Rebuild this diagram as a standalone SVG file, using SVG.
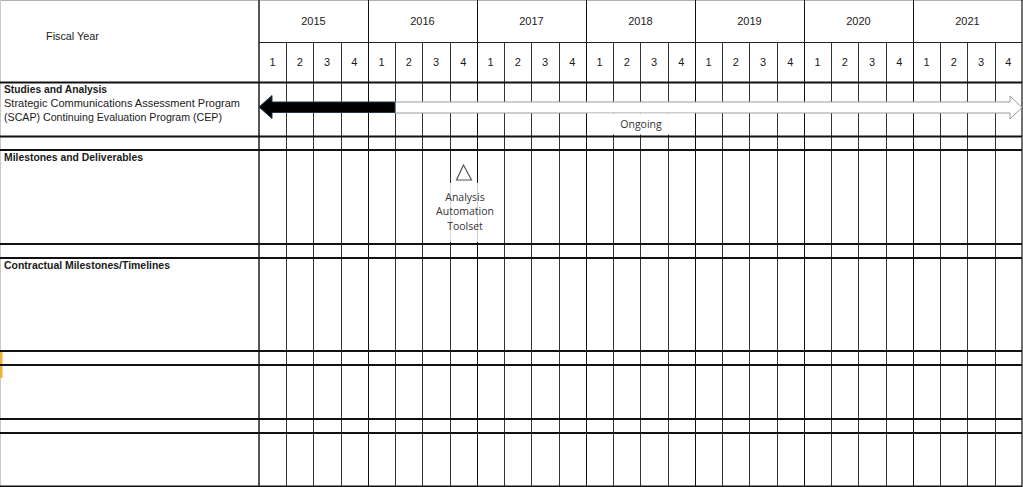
<svg xmlns="http://www.w3.org/2000/svg" width="1023" height="487" viewBox="0 0 1023 487">
<style>
text{font-family:"Liberation Sans",Arial,sans-serif;fill:#1a1a1a}
.hd{font-size:11px;text-anchor:middle}
.lb{font-size:10.6px}
.b{font-weight:bold}
.q{stroke:#333;stroke-width:1}
.y{stroke:#111;stroke-width:1}
.h{stroke:#111;stroke-width:2}
.cal{font-family:"Open Sans","Liberation Sans",sans-serif;font-size:10px;fill:#333;text-anchor:middle}
</style>
<rect x="0" y="0" width="1023" height="487" fill="#fff"/>
<g id="frame">
<line x1="0" y1="0.5" x2="1023" y2="0.5" stroke="#b0b0b0"/>
<line x1="0.5" y1="0" x2="0.5" y2="487" stroke="#c8c8c8"/>
<rect x="0" y="350" width="2.5" height="28" fill="#f2b134"/>
<line x1="1022" y1="0" x2="1022" y2="487" stroke="#111" stroke-width="1.2"/>
</g>
<g id="grid">
<g class="q">
<line x1="286.5" y1="42" x2="286.5" y2="487"/><line x1="313.5" y1="42" x2="313.5" y2="487"/><line x1="341.5" y1="42" x2="341.5" y2="487"/>
<line x1="395.5" y1="42" x2="395.5" y2="487"/><line x1="422.5" y1="42" x2="422.5" y2="487"/><line x1="450.5" y1="42" x2="450.5" y2="487"/>
<line x1="504.5" y1="42" x2="504.5" y2="487"/><line x1="531.5" y1="42" x2="531.5" y2="487"/><line x1="559.5" y1="42" x2="559.5" y2="487"/>
<line x1="613.5" y1="42" x2="613.5" y2="487"/><line x1="640.5" y1="42" x2="640.5" y2="487"/><line x1="668.5" y1="42" x2="668.5" y2="487"/>
<line x1="722.5" y1="42" x2="722.5" y2="487"/><line x1="749.5" y1="42" x2="749.5" y2="487"/><line x1="777.5" y1="42" x2="777.5" y2="487"/>
<line x1="831.5" y1="42" x2="831.5" y2="487"/><line x1="858.5" y1="42" x2="858.5" y2="487"/><line x1="886.5" y1="42" x2="886.5" y2="487"/>
<line x1="940.5" y1="42" x2="940.5" y2="487"/><line x1="967.5" y1="42" x2="967.5" y2="487"/><line x1="995.5" y1="42" x2="995.5" y2="487"/>
</g>
<g class="y">
<line x1="368.5" y1="0" x2="368.5" y2="487"/><line x1="477.5" y1="0" x2="477.5" y2="487"/><line x1="586.5" y1="0" x2="586.5" y2="487"/>
<line x1="695.5" y1="0" x2="695.5" y2="487"/><line x1="804.5" y1="0" x2="804.5" y2="487"/><line x1="913.5" y1="0" x2="913.5" y2="487"/>
</g>
<line x1="259" y1="0" x2="259" y2="487" stroke="#555" stroke-width="2"/>
<line x1="259" y1="42.5" x2="1022" y2="42.5" stroke="#222" stroke-width="1"/>
<g class="h">
<line x1="0" y1="82.5" x2="1022" y2="82.5"/>
<line x1="0" y1="136.5" x2="1022" y2="136.5"/>
<line x1="0" y1="150" x2="1022" y2="150"/>
<line x1="0" y1="244" x2="1022" y2="244"/>
<line x1="0" y1="258" x2="1022" y2="258"/>
<line x1="0" y1="351" x2="1022" y2="351"/>
<line x1="0" y1="365" x2="1022" y2="365"/>
<line x1="0" y1="419" x2="1022" y2="419"/>
<line x1="0" y1="433" x2="1022" y2="433"/>
<line x1="0" y1="486.5" x2="1022" y2="486.5"/>
</g>
</g>
<g id="header">
<text class="hd" x="72.5" y="40" style="font-size:10.8px">Fiscal Year</text>
<text class="hd" x="313.5" y="25">2015</text><text class="hd" x="422.5" y="25">2016</text><text class="hd" x="531.5" y="25">2017</text>
<text class="hd" x="640.5" y="25">2018</text><text class="hd" x="749.5" y="25">2019</text><text class="hd" x="858.5" y="25">2020</text><text class="hd" x="967.5" y="25">2021</text>
<g>
<text class="hd" x="272.6" y="66">1</text><text class="hd" x="299.9" y="66">2</text><text class="hd" x="327.1" y="66">3</text><text class="hd" x="354.4" y="66">4</text>
<text class="hd" x="381.6" y="66">1</text><text class="hd" x="408.9" y="66">2</text><text class="hd" x="436.1" y="66">3</text><text class="hd" x="463.4" y="66">4</text>
<text class="hd" x="490.6" y="66">1</text><text class="hd" x="517.9" y="66">2</text><text class="hd" x="545.1" y="66">3</text><text class="hd" x="572.4" y="66">4</text>
<text class="hd" x="599.6" y="66">1</text><text class="hd" x="626.9" y="66">2</text><text class="hd" x="654.1" y="66">3</text><text class="hd" x="681.4" y="66">4</text>
<text class="hd" x="708.6" y="66">1</text><text class="hd" x="735.9" y="66">2</text><text class="hd" x="763.1" y="66">3</text><text class="hd" x="790.4" y="66">4</text>
<text class="hd" x="817.6" y="66">1</text><text class="hd" x="844.9" y="66">2</text><text class="hd" x="872.1" y="66">3</text><text class="hd" x="899.4" y="66">4</text>
<text class="hd" x="926.6" y="66">1</text><text class="hd" x="953.9" y="66">2</text><text class="hd" x="981.1" y="66">3</text><text class="hd" x="1008.4" y="66">4</text>
</g>
</g>
<g id="row-studies">
<text class="lb b" x="4" y="93" textLength="103" lengthAdjust="spacingAndGlyphs">Studies and Analysis</text>
<text class="lb" x="4" y="106.5" textLength="236" lengthAdjust="spacingAndGlyphs">Strategic Communications Assessment Program</text>
<text class="lb" x="4" y="120.5" textLength="218" lengthAdjust="spacingAndGlyphs">(SCAP) Continuing Evaluation Program (CEP)</text>
</g>
<g id="connectors">
<polygon points="395,102 1010,102 1010,96 1022,107.5 1010,119 1010,113 395,113" fill="#fff" stroke="#9a9a9a" stroke-width="1"/>
<polygon points="259,107 272,95.5 272,102 395,102 395,112.5 272,112.5 272,118.5" fill="#000" stroke="#1f3550" stroke-width="1"/>
</g>
<g id="ongoing">
<rect x="587.5" y="113.5" width="107" height="21" fill="#fff"/>
<text class="cal" x="641" y="128" style="font-size:10.5px">Ongoing</text>
</g>
<g id="row-milestones">
<text class="lb b" x="4" y="160.5" textLength="139" lengthAdjust="spacingAndGlyphs">Milestones and Deliverables</text>
</g>
<g id="milestone-analysis">
<rect x="446" y="183" width="34" height="59" fill="#fff" fill-opacity="0.8"/>
<polygon points="463.5,165 456.5,180 471.5,180" fill="#fff" stroke="#555" stroke-width="1.2"/>
<text class="cal" x="465" y="201" style="font-size:10.5px">Analysis</text>
<text class="cal" x="465" y="215" style="font-size:10.5px">Automation</text>
<text class="cal" x="465" y="229.5" style="font-size:10.5px">Toolset</text>
</g>
<g id="row-contractual">
<text class="lb b" x="4" y="268.5" textLength="166" lengthAdjust="spacingAndGlyphs">Contractual Milestones/Timelines</text>
</g>
</svg>
